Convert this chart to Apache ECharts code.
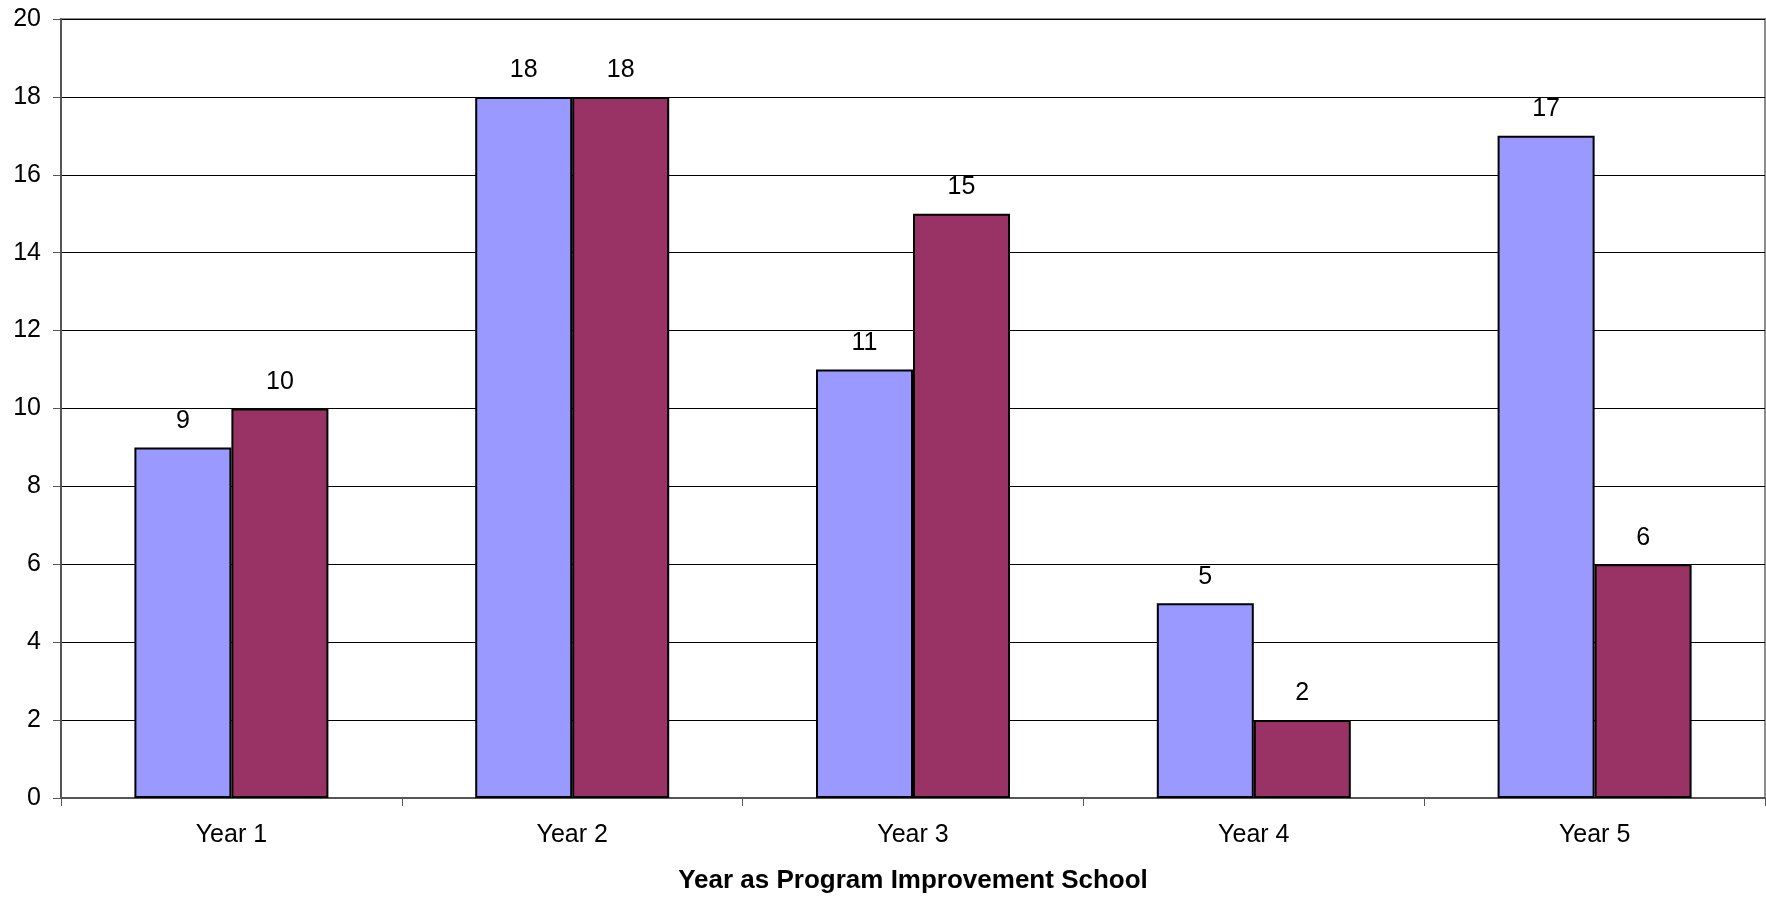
<!DOCTYPE html>
<html>
<head>
<meta charset="utf-8">
<title>Year as Program Improvement School</title>
<script src="https://cdn.jsdelivr.net/npm/echarts@6/dist/echarts.min.js"></script>
<style>
  html, body { margin: 0; padding: 0; background: #fff; overflow: hidden; }
  #chart { width: 1766px; height: 898px; }
</style>
</head>
<body>
<div id="chart"></div>
<script>
// Categories and the two counts per year
const categories = ['Year 1', 'Year 2', 'Year 3', 'Year 4', 'Year 5'];
const seriesA = [9, 18, 11, 5, 17];
const seriesB = [10, 18, 15, 2, 6];
const axisTitle = 'Year as Program Improvement School';

const FONT = '"Liberation Sans", Arial, sans-serif';

const chart = echarts.init(document.getElementById('chart'), null, { renderer: 'canvas' });

const labelStyle = {
  show: true,
  position: 'top',
  distance: 14,
  color: '#000',
  fontFamily: FONT,
  fontSize: 25
};

chart.setOption({
  animation: false,
  backgroundColor: '#fff',
  grid: {
    left: 61,
    right: 1,
    top: 19,
    bottom: 100,
    containLabel: false,
    outerBoundsMode: 'none',
    show: true,
    borderColor: '#8c8c8c',
    borderWidth: 2,
    backgroundColor: 'transparent'
  },
  xAxis: {
    type: 'category',
    data: categories,
    name: axisTitle,
    nameLocation: 'middle',
    nameGap: 70,
    nameTextStyle: {
      color: '#000',
      fontFamily: FONT,
      fontSize: 26,
      fontWeight: 'bold'
    },
    axisLine: { show: true, lineStyle: { color: '#555', width: 2 } },
    axisTick: { show: true, alignWithLabel: false, length: 8, lineStyle: { color: '#555', width: 1 } },
    axisLabel: { color: '#000', fontFamily: FONT, fontSize: 25, margin: 25 },
    splitLine: { show: false }
  },
  yAxis: {
    type: 'value',
    min: 0,
    max: 20,
    interval: 2,
    axisLine: { show: true, lineStyle: { color: '#555', width: 2 } },
    axisTick: { show: true, length: 8, lineStyle: { color: '#555', width: 1 } },
    axisLabel: { color: '#000', fontFamily: FONT, fontSize: 25, margin: 20 },
    splitLine: { show: true, lineStyle: { color: '#000', width: 1 } }
  },
  series: [
    {
      name: 'A',
      type: 'bar',
      data: seriesA,
      barWidth: 97,
      barGap: '0%',
      itemStyle: { color: '#9999ff', borderColor: '#000', borderWidth: 2 },
      label: labelStyle
    },
    {
      name: 'B',
      type: 'bar',
      data: seriesB,
      barWidth: 97,
      barGap: '0%',
      itemStyle: { color: '#993366', borderColor: '#000', borderWidth: 2 },
      label: labelStyle
    }
  ]
});
</script>
</body>
</html>
